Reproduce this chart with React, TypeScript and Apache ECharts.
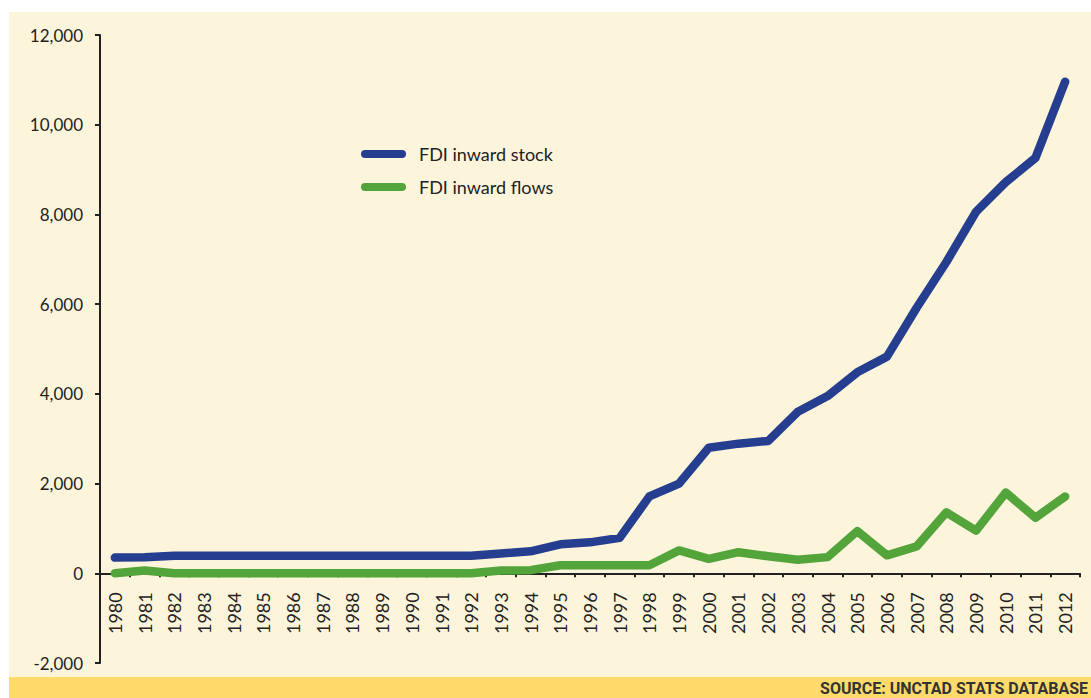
import React, { useEffect, useRef } from "react";
import * as echarts from "echarts";

// Years on the category axis
const years: string[] = [
  "1980", "1981", "1982", "1983", "1984", "1985", "1986", "1987", "1988", "1989",
  "1990", "1991", "1992", "1993", "1994", "1995", "1996", "1997", "1998", "1999",
  "2000", "2001", "2002", "2003", "2004", "2005", "2006", "2007", "2008", "2009",
  "2010", "2011", "2012",
];

// FDI inward stock
const inwardStock: number[] = [
  350, 360, 390, 390, 390, 390, 390, 390, 390, 390,
  390, 390, 390, 440, 490, 645, 690, 790, 1715, 2000,
  2800, 2890, 2950, 3600, 3950, 4480, 4830, 5920, 6940, 8060,
  8720, 9260, 10960,
];

// FDI inward flows
const inwardFlows: number[] = [
  0, 60, 0, 0, 0, 0, 0, 0, 0, 0,
  0, 0, 0, 60, 70, 180, 180, 180, 180, 510,
  320, 470, 380, 300, 360, 940, 400, 600, 1360, 950,
  1800, 1240, 1710,
];

const seriesNames = ["FDI inward stock", "FDI inward flows"];
const sourceNote = "SOURCE: UNCTAD STATS DATABASE";

const Y_MIN = -2000;
const Y_MAX = 12000;
const Y_STEP = 2000;

const BLUE = "#253e8f";
const GREEN = "#53a43a";
const CREAM = "#fdf5db";
const BAR = "#fedb6b";
const INK = "#222222";
const FONT = "Lato, 'Open Sans', sans-serif";

// plot area
const GRID_TOP = 35;
const GRID_BOTTOM = 35;
const PLOT_H = 698 - GRID_TOP - GRID_BOTTOM;
// lift the category axis from the bottom of the plot to the zero line
const ZERO_OFFSET = -PLOT_H * (0 - Y_MIN) / (Y_MAX - Y_MIN);

const capsule = "path://M4,0 H41 A4,4 0 0 1 41,8 H4 A4,4 0 0 1 4,0 Z";

export default function App() {
  const ref = useRef<HTMLDivElement>(null);

  useEffect(() => {
    if (!ref.current) return;
    const chart = echarts.init(ref.current, undefined, { renderer: "svg" });
    chart.setOption({
      animation: false,
      backgroundColor: "transparent",
      grid: {
        left: 100,
        right: 11,
        top: GRID_TOP,
        bottom: GRID_BOTTOM,
        containLabel: false,
        outerBoundsMode: "none",
      },
      legend: {
        orient: "vertical",
        left: 361,
        top: 144,
        padding: 0,
        itemWidth: 45,
        itemHeight: 8,
        itemGap: 13,
        icon: capsule,
        data: seriesNames,
        textStyle: {
          fontFamily: FONT,
          fontSize: 18,
          color: INK,
          lineHeight: 20,
          padding: [0, 0, 0, 8],
        },
      },
      xAxis: {
        type: "category",
        data: years,
        boundaryGap: true,
        offset: ZERO_OFFSET,
        axisLine: { onZero: false, lineStyle: { color: INK, width: 2 } },
        axisTick: { show: true, length: 4, lineStyle: { color: INK, width: 2 } },
        axisLabel: {
          rotate: 90,
          margin: 19,
          fontFamily: FONT,
          fontSize: 18,
          color: INK,
          interval: 0,
        },
        splitLine: { show: false },
      },
      yAxis: {
        type: "value",
        min: Y_MIN,
        max: Y_MAX,
        interval: Y_STEP,
        axisLine: { show: true, lineStyle: { color: INK, width: 2 } },
        axisTick: { show: true, length: 5, lineStyle: { color: INK, width: 2 } },
        axisLabel: {
          margin: 17,
          fontFamily: FONT,
          fontSize: 17,
          color: INK,
          formatter: (v: number) => v.toLocaleString("en-US"),
        },
        splitLine: { show: false },
      },
      series: [
        {
          name: seriesNames[0],
          type: "line",
          data: inwardStock,
          symbol: "none",
          color: BLUE,
          lineStyle: { width: 8.5, color: BLUE, cap: "round", join: "round" },
          z: 3,
        },
        {
          name: seriesNames[1],
          type: "line",
          data: inwardFlows,
          symbol: "none",
          color: GREEN,
          lineStyle: { width: 8.5, color: GREEN, cap: "round", join: "round" },
          z: 2,
        },
      ],
      graphic: [
        {
          type: "text",
          right: 3,
          top: 680,
          style: {
            text: sourceNote,
            fontFamily: "Roboto, sans-serif",
            fontWeight: "bold",
            fontSize: 16,
            lineHeight: 17,
            fill: "#333333",
          },
        },
      ],
    });
    return () => chart.dispose();
  }, []);

  return (
    <div style={{ position: "fixed", left: 0, top: 0, width: 1091, height: 698, background: "#ffffff" }}>
      <div style={{ position: "absolute", left: 9, top: 12, right: 0, height: 665, background: CREAM }} />
      <div style={{ position: "absolute", left: 9, top: 677, right: 0, bottom: 0, background: BAR }} />
      <div ref={ref} style={{ position: "absolute", left: 0, top: 0, width: 1091, height: 698 }} />
    </div>
  );
}
